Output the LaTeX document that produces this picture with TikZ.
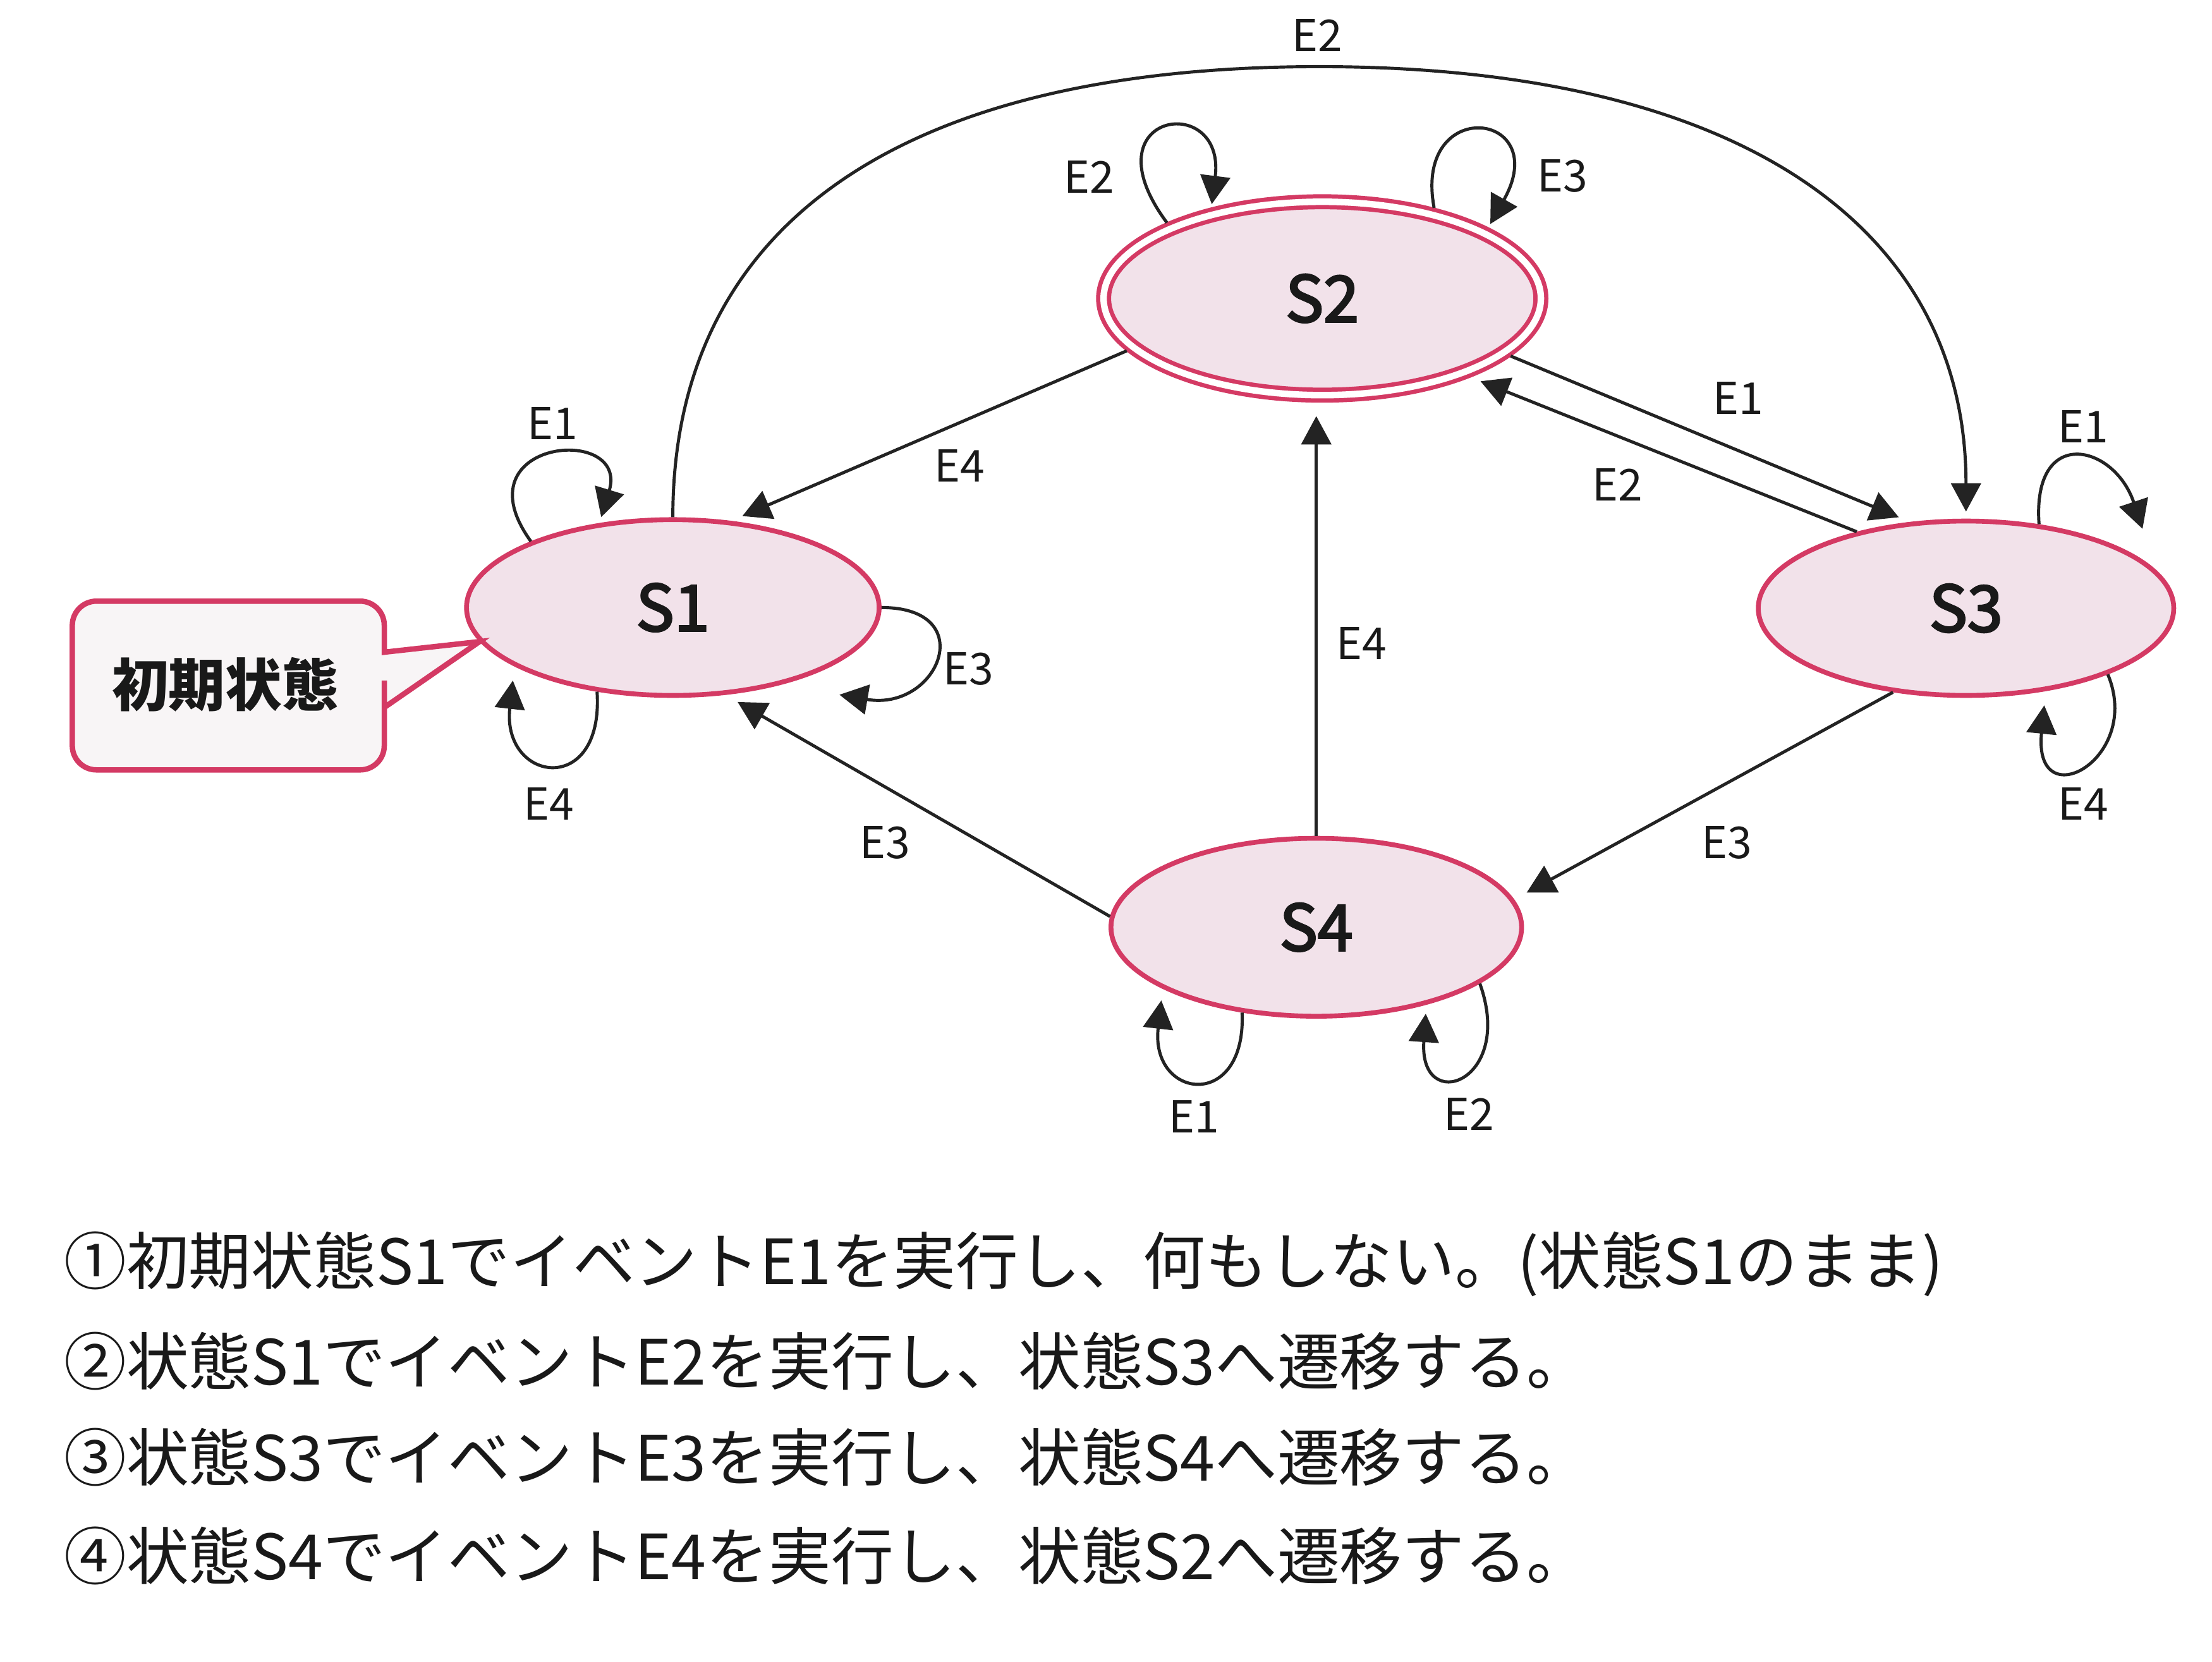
\documentclass[tikz,border=0pt]{standalone}
\usepackage{fontspec}
\setmainfont{Noto Sans CJK JP}
\newfontfamily\statefont[FakeBold=3]{Noto Sans CJK JP}
\usetikzlibrary{arrows.meta,shapes.geometric,calc}
\definecolor{pinkline}{RGB}{212,58,100}
\definecolor{pinkfill}{RGB}{242,226,234}
\definecolor{calloutfill}{RGB}{248,245,246}
\definecolor{edgecol}{RGB}{35,35,35}
\definecolor{txtcol}{RGB}{25,25,25}
\begin{document}
\begin{tikzpicture}[x=1pt,y=-1pt,
  state/.style={ellipse, draw=pinkline, fill=pinkfill, line width=3.4pt, inner sep=0pt,
    font=\fontsize{45}{45}\statefont, text=txtcol},
  trans/.style={draw=edgecol, line width=2.2pt, -{Triangle[length=20pt,width=21pt]}},
  lbl/.style={font=\fontsize{31}{31}\selectfont, text=txtcol, inner sep=0pt},
  desc/.style={font=\fontsize{44}{44}\selectfont, text=txtcol, anchor=base west, inner sep=0pt}]

\useasboundingbox (0,0) rectangle (1560,1172);
\fill[white] (0,0) rectangle (1560,1172);

% states
\node[state, minimum width=291pt, minimum height=124pt] (s1) at (474.5,428.5) {S1};
\node[state, double=white, double distance=4.6pt, line width=3pt, outer sep=5.3pt,
      minimum width=308.4pt, minimum height=136.4pt] (s2) at (932.5,210.5) {S2};
\node[state, minimum width=293pt, minimum height=123pt] (s3) at (1386.5,429) {S3};
\node[state, minimum width=289.6pt, minimum height=125.5pt] (s4) at (928.3,654) {S4};

% callout
\filldraw[draw=pinkline, fill=calloutfill, line width=3.8pt, rounded corners=17pt]
  (271,480) -- (271,543) -- (51,543) -- (51,424) -- (271,424)
  [sharp corners] -- (271,460) -- (s1.190) -- (271,499) -- cycle;
\node[font=\fontsize{40}{40}\selectfont\bfseries, text=txtcol, inner sep=0pt] (init) at (159,483) {初期状態};

% transitions between states
\coordinate (apex) at (930.5,47);
\draw[trans, shorten >=5pt] (s1.north) .. controls +(0,-206) and +(-296,0) .. (apex)
  .. controls +(296,0) and +(0,-206) .. (s3.north);
\draw[trans, shorten >=8.5pt] (s2.195.1) -- (s1.56.8);
\draw[trans, shorten >=8.5pt] (s2.343.7) -- (s3.123.1);
\draw[trans, shorten >=7.7pt] (s3.145.5) -- (s2.332.9);
\draw[trans, shorten >=9.5pt] (s4.north) -- (s4.north |- s2.south);
\draw[trans, shorten >=10pt] (s4.177.8) -- (s1.301.3);
\draw[trans, shorten >=10pt] (s3.229.7) -- (s4.8.4);

% self loops
\draw[trans] (s1.155.2) .. controls +(-52,-72) and +(20,-66) .. ($(s1)+(-50.5,-63.8)$);
\draw[trans] (s1.east) .. controls +(70,0) and +(70,12) .. ($(s1)+(117.5,61.5)$);
\draw[trans] (s1.228.5) .. controls +(5,75) and +(-8,72) .. ($(s1)+(-112.8,51.5)$);
\draw[trans] (s2.154.6) .. controls +(-58,-78) and +(10,-80) .. ($(s2)+(-77.9,-66.5)$);
\draw[trans] (s2.39.7) .. controls +(-15,-80) and +(45,-80) .. ($(s2)+(118.5,-52.5)$);
\draw[trans] (s3.49.3) .. controls +(-5,-70) and +(-20,-60) .. ($(s3)+(124.5,-56)$);
\draw[trans] (s3.335.1) .. controls +(25,60) and +(-8,80) .. ($(s3)+(55.2,68.5)$);
\draw[trans] (s4.229.9) .. controls +(3,70) and +(-8,70) .. ($(s4)+(-109.3,51.6)$);
\draw[trans] (s4.341.5) .. controls +(25,70) and +(-5,72) .. ($(s4)+(77.2,61)$);

% labels
\node[lbl] (lA) at (929,25) {E2};
\node[lbl] (lB) at (768,125) {E2};
\node[lbl] (lC) at (1102,124) {E3};
\node[lbl] (lD) at (676.6,328.4) {E4};
\node[lbl] (lE) at (1226,281) {E1};
\node[lbl] (lF) at (1140.7,342) {E2};
\node[lbl] (lG) at (960,453.7) {E4};
\node[lbl] (lH) at (624,594.5) {E3};
\node[lbl] (lI) at (1217.8,594.5) {E3};
\node[lbl] (lJ) at (389.5,298.5) {E1};
\node[lbl] (lK) at (683,471.6) {E3};
\node[lbl] (lL) at (387,567) {E4};
\node[lbl] (lM) at (1469,301) {E1};
\node[lbl] (lN) at (1469,567) {E4};
\node[lbl] (lO) at (842,787.4) {E1};
\node[lbl] (lP) at (1036,785.8) {E2};

% description
\node[desc] (d1) at (45,906) {①初期状態S1でイベントE1を実行し、何もしない。(状態S1のまま)};
\node[desc] (d2) at (45,976.7) {②状態S1でイベントE2を実行し、状態S3へ遷移する。};
\node[desc] (d3) at (45,1044.7) {③状態S3でイベントE3を実行し、状態S4へ遷移する。};
\node[desc] (d4) at (45,1114.2) {④状態S4でイベントE4を実行し、状態S2へ遷移する。};
\end{tikzpicture}
\end{document}
